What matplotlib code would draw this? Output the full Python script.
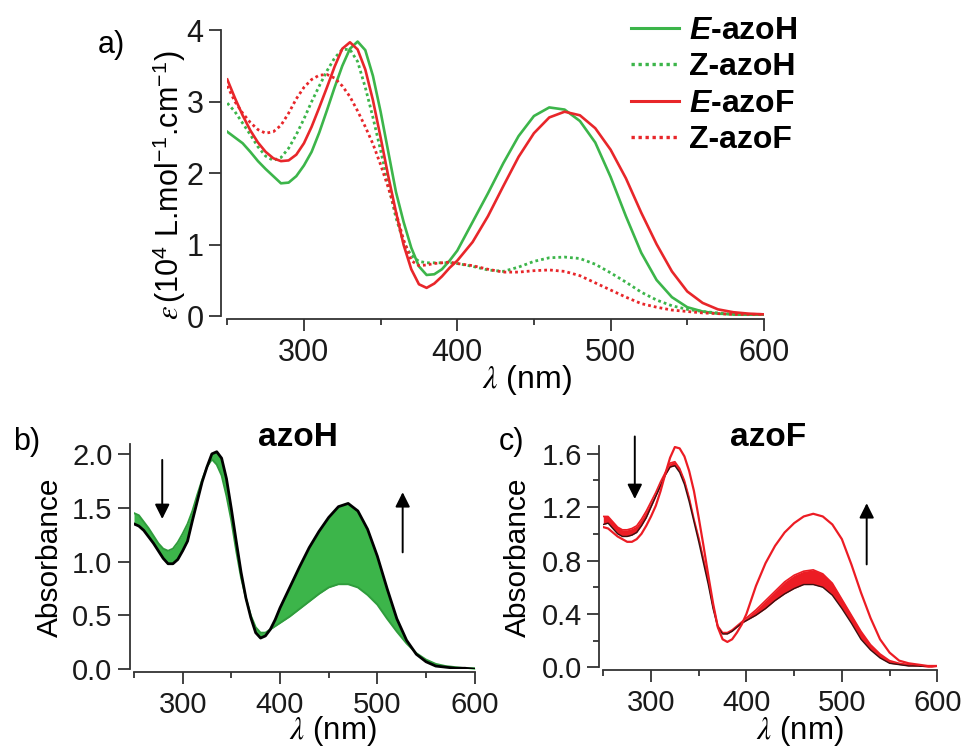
import matplotlib
matplotlib.use("Agg")
import matplotlib.pyplot as plt
from matplotlib.ticker import FixedLocator
from matplotlib.lines import Line2D

plt.rcParams['font.family'] = ['Liberation Sans', 'DejaVu Sans']
plt.rcParams['mathtext.fontset'] = 'custom'
plt.rcParams['mathtext.rm'] = 'Liberation Sans'
plt.rcParams['mathtext.it'] = 'STIXGeneral:italic'
plt.rcParams['mathtext.bf'] = 'Liberation Sans:bold'
plt.rcParams['mathtext.bfit'] = 'Liberation Sans:italic:bold'
plt.rcParams['lines.solid_joinstyle'] = 'round'

# ---------------- data ----------------
wavelength = [250, 255, 260, 265, 270, 275, 280, 285, 290, 295, 300, 305, 310, 315, 320,
              325, 330, 335, 340, 345, 350, 355, 360, 365, 370, 375, 380, 385, 390, 395,
              400, 410, 420, 430, 440, 450, 460, 470, 480, 490, 500, 510, 520, 530, 540,
              550, 560, 570, 580, 590, 600]

# panel a: molar absorptivity (10^4 L/mol/cm)
E_azoH = [2.58, 2.50, 2.42, 2.30, 2.17, 2.06, 1.96, 1.86, 1.87, 1.96, 2.11, 2.30, 2.57, 2.88, 3.20,
          3.50, 3.74, 3.84, 3.72, 3.36, 2.86, 2.30, 1.74, 1.32, 0.96, 0.70, 0.58, 0.59, 0.66, 0.78,
          0.92, 1.32, 1.72, 2.14, 2.52, 2.80, 2.92, 2.89, 2.73, 2.43, 1.95, 1.40, 0.89, 0.51, 0.27,
          0.13, 0.07, 0.04, 0.03, 0.02, 0.02]
Z_azoH = [2.98, 2.86, 2.70, 2.54, 2.37, 2.24, 2.18, 2.22, 2.35, 2.54, 2.76, 3.00, 3.22, 3.43, 3.61,
          3.73, 3.73, 3.56, 3.20, 2.78, 2.32, 1.84, 1.38, 1.04, 0.85, 0.77, 0.75, 0.75, 0.75, 0.75,
          0.74, 0.70, 0.65, 0.63, 0.69, 0.77, 0.82, 0.83, 0.81, 0.73, 0.61, 0.48, 0.34, 0.23, 0.15,
          0.10, 0.07, 0.05, 0.03, 0.02, 0.02]
E_azoF = [3.31, 3.05, 2.81, 2.60, 2.43, 2.30, 2.21, 2.17, 2.18, 2.26, 2.42, 2.65, 2.92, 3.20, 3.49,
          3.74, 3.83, 3.73, 3.45, 3.02, 2.50, 1.96, 1.46, 1.00, 0.66, 0.45, 0.40, 0.46, 0.56, 0.68,
          0.78, 1.04, 1.40, 1.82, 2.23, 2.56, 2.78, 2.86, 2.81, 2.63, 2.33, 1.93, 1.45, 1.01, 0.63,
          0.35, 0.19, 0.10, 0.06, 0.04, 0.03]
Z_azoF = [3.22, 3.00, 2.84, 2.71, 2.61, 2.56, 2.58, 2.67, 2.84, 3.04, 3.20, 3.31, 3.37, 3.38, 3.33,
          3.22, 3.07, 2.87, 2.65, 2.41, 2.12, 1.80, 1.45, 1.07, 0.78, 0.71, 0.72, 0.74, 0.75, 0.76,
          0.74, 0.71, 0.66, 0.62, 0.62, 0.64, 0.65, 0.63, 0.57, 0.47, 0.37, 0.27, 0.18, 0.13, 0.09,
          0.07, 0.05, 0.04, 0.03, 0.03, 0.03]

# panel b: azoH absorbance, first and last spectra of the series
azoH_first = [1.45, 1.43, 1.37, 1.31, 1.24, 1.17, 1.12, 1.10, 1.12, 1.18, 1.26, 1.35, 1.47, 1.62, 1.76,
              1.88, 1.95, 1.90, 1.80, 1.61, 1.38, 1.10, 0.85, 0.66, 0.50, 0.39, 0.34, 0.34, 0.37, 0.40,
              0.43, 0.49, 0.56, 0.63, 0.70, 0.76, 0.79, 0.79, 0.76, 0.69, 0.60, 0.47, 0.35, 0.24, 0.15,
              0.09, 0.05, 0.03, 0.02, 0.01, 0.01]
azoH_last = [1.35, 1.33, 1.29, 1.23, 1.17, 1.10, 1.03, 0.98, 0.98, 1.02, 1.10, 1.19, 1.38, 1.56, 1.74,
             1.88, 2.00, 2.02, 1.96, 1.77, 1.49, 1.19, 0.90, 0.66, 0.48, 0.34, 0.29, 0.31, 0.37, 0.46,
             0.57, 0.76, 0.95, 1.13, 1.28, 1.41, 1.51, 1.54, 1.47, 1.30, 1.05, 0.75, 0.47, 0.27, 0.14,
             0.07, 0.03, 0.02, 0.01, 0.01, 0.00]

# panel c: azoF absorbance
azoF_first = [1.07, 1.08, 1.04, 1.00, 0.98, 0.98, 0.99, 1.01, 1.06, 1.12, 1.20, 1.28, 1.36, 1.44, 1.50,
              1.51, 1.46, 1.37, 1.24, 1.09, 0.94, 0.78, 0.62, 0.44, 0.30, 0.25, 0.25, 0.27, 0.30, 0.33,
              0.35, 0.39, 0.44, 0.50, 0.55, 0.59, 0.62, 0.62, 0.60, 0.54, 0.44, 0.33, 0.21, 0.13, 0.07,
              0.03, 0.02, 0.01, 0.01, 0.00, 0.00]
azoF_band_top = [1.13, 1.13, 1.09, 1.05, 1.03, 1.03, 1.04, 1.06, 1.11, 1.17, 1.24, 1.31, 1.39, 1.46, 1.53,
                 1.54, 1.49, 1.40, 1.27, 1.11, 0.97, 0.81, 0.65, 0.46, 0.31, 0.26, 0.26, 0.28, 0.31, 0.34,
                 0.37, 0.43, 0.50, 0.57, 0.64, 0.69, 0.72, 0.73, 0.70, 0.63, 0.51, 0.39, 0.27, 0.17, 0.10,
                 0.05, 0.03, 0.02, 0.01, 0.01, 0.00]
azoF_last = [1.05, 1.04, 1.01, 0.98, 0.96, 0.94, 0.94, 0.96, 1.00, 1.06, 1.13, 1.21, 1.32, 1.45, 1.57,
             1.65, 1.64, 1.58, 1.47, 1.32, 1.12, 0.91, 0.69, 0.48, 0.30, 0.21, 0.19, 0.21, 0.26, 0.32,
             0.40, 0.61, 0.78, 0.91, 1.01, 1.08, 1.13, 1.15, 1.13, 1.07, 0.96, 0.77, 0.56, 0.37, 0.21,
             0.11, 0.05, 0.03, 0.02, 0.01, 0.01]

GREEN = '#3cb54a'
RED = '#e8262a'
DOT = (0, (1, 1.1))

W, H = 963, 750
fig = plt.figure(figsize=(W / 100, H / 100), dpi=100)


def px(x, y):
    return x / W, 1 - y / H


def style(ax, ylim, ymajor, yminor=None, ylabels=None, left_out=3):
    ax.set_xlim(250, 600)
    ax.set_ylim(*ylim)
    for s in ('top', 'right'):
        ax.spines[s].set_visible(False)
    ax.spines['left'].set_position(('outward', left_out))
    ax.spines['bottom'].set_position(('outward', 2))
    for s in ('left', 'bottom'):
        ax.spines[s].set_linewidth(1.3)
        ax.spines[s].set_color('#333333')
    ax.xaxis.set_major_locator(FixedLocator([300, 400, 500, 600]))
    ax.xaxis.set_minor_locator(FixedLocator([250, 350, 450, 550]))
    ax.yaxis.set_major_locator(FixedLocator(ymajor))
    if yminor is not None:
        ax.yaxis.set_minor_locator(FixedLocator(yminor))
    if ylabels is not None:
        ax.set_yticklabels(ylabels)
    ax.tick_params(axis='both', which='both', direction='out', color='#333333', width=1.3,
                   labelsize=21, labelcolor='#1a1a1a')
    ax.tick_params(axis='x', which='major', length=8.5, pad=5)
    ax.tick_params(axis='x', which='minor', length=4.5)
    ax.tick_params(axis='y', which='major', length=8.5, pad=4)
    ax.tick_params(axis='y', which='minor', length=4.5)
    ax.patch.set_alpha(0)


# ---------------- panel a ----------------
axa = fig.add_axes([227.3 / W, 1 - 316.5 / H, 536.6 / W, 286.4 / H])
axa.plot(wavelength, E_azoH, color=GREEN, lw=1.9)
axa.plot(wavelength, Z_azoH, color=GREEN, lw=2.0, ls=DOT)
axa.plot(wavelength, E_azoF, color=RED, lw=1.9)
axa.plot(wavelength, Z_azoF, color=RED, lw=2.0, ls=DOT)
style(axa, (0, 4), [0, 1, 2, 3, 4], left_out=4.5)
axa.tick_params(axis='both', which='major', labelsize=22)

handles = [Line2D([], [], color=GREEN, lw=2.2),
           Line2D([], [], color=GREEN, lw=2.4, ls=DOT),
           Line2D([], [], color=RED, lw=2.2),
           Line2D([], [], color=RED, lw=2.4, ls=DOT)]
labels = [r'$\mathbfit{E}$-azoH', r'Z-azoH', r'$\mathbfit{E}$-azoF', r'Z-azoF']
fig.legend(handles, labels, loc='upper left', bbox_to_anchor=px(631, 16),
           frameon=False, prop={'weight': 'bold', 'size': 23}, handlelength=1.5,
           handletextpad=0.3, labelspacing=0.2, borderpad=0, borderaxespad=0)

fig.text(*px(111, 45), 'a)', fontsize=22, ha='center', va='center')
fig.text(*px(527, 380), r'$\lambda$ (nm)', fontsize=23, ha='center', va='center')
fig.text(*px(169, 185), r'$\varepsilon\,$(10$^{4}$ L.mol$^{-1}$.cm$^{-1}$)', fontsize=22,
         ha='center', va='center', rotation=90)

# ---------------- panel b ----------------
axb = fig.add_axes([134 / W, 1 - 669.3 / H, 340.7 / W, 225.1 / H])
axb.fill_between(wavelength, azoH_first, azoH_last, color=GREEN, lw=0)
axb.plot(wavelength, azoH_first, color='#2f9c3c', lw=1.4)
axb.plot(wavelength, azoH_last, color='black', lw=2.0)
style(axb, (0, 2.09), [0, 0.5, 1.0, 1.5, 2.0], ylabels=['0.0', '0.5', '1.0', '1.5', '2.0'])
axb.annotate('', xy=(279, 1.37), xytext=(279, 1.97),
             arrowprops=dict(arrowstyle='-|>', color='black', lw=1.4, mutation_scale=22))
axb.annotate('', xy=(526, 1.67), xytext=(526, 1.06),
             arrowprops=dict(arrowstyle='-|>', color='black', lw=1.4, mutation_scale=22))
fig.text(*px(27, 442), 'b)', fontsize=22, ha='center', va='center')
fig.text(*px(298, 437), 'azoH', fontsize=24, fontweight='bold', ha='center', va='center')
fig.text(*px(333, 731), r'$\lambda$ (nm)', fontsize=22.5, ha='center', va='center')
fig.text(*px(50, 557), 'Absorbance', fontsize=21.5, ha='center', va='center', rotation=90)

# ---------------- panel c ----------------
axc = fig.add_axes([603.3 / W, 1 - 667.3 / H, 334 / W, 221.6 / H])
axc.fill_between(wavelength, azoF_first, azoF_band_top, color='#ec1c24', lw=0)
axc.plot(wavelength, azoF_band_top, color='#ec1c24', lw=1.2)
axc.plot(wavelength, azoF_first, color='#3a1010', lw=1.0)
axc.plot(wavelength, azoF_last, color='#ec1c24', lw=1.6)
style(axc, (0, 1.66), [0, 0.4, 0.8, 1.2, 1.6], yminor=[0.2, 0.6, 1.0, 1.4],
      ylabels=['0.0', '0.4', '0.8', '1.2', '1.6'])
axc.annotate('', xy=(283, 1.24), xytext=(283, 1.75),
             arrowprops=dict(arrowstyle='-|>', color='black', lw=1.4, mutation_scale=22),
             annotation_clip=False)
axc.annotate('', xy=(526, 1.25), xytext=(526, 0.75),
             arrowprops=dict(arrowstyle='-|>', color='black', lw=1.4, mutation_scale=22))
fig.text(*px(511, 442), 'c)', fontsize=22, ha='center', va='center')
fig.text(*px(768, 437), 'azoF', fontsize=24, fontweight='bold', ha='center', va='center')
fig.text(*px(800, 731), r'$\lambda$ (nm)', fontsize=22.5, ha='center', va='center')
fig.text(*px(518, 557), 'Absorbance', fontsize=21.5, ha='center', va='center', rotation=90)

fig.savefig('out.png', dpi=100)
